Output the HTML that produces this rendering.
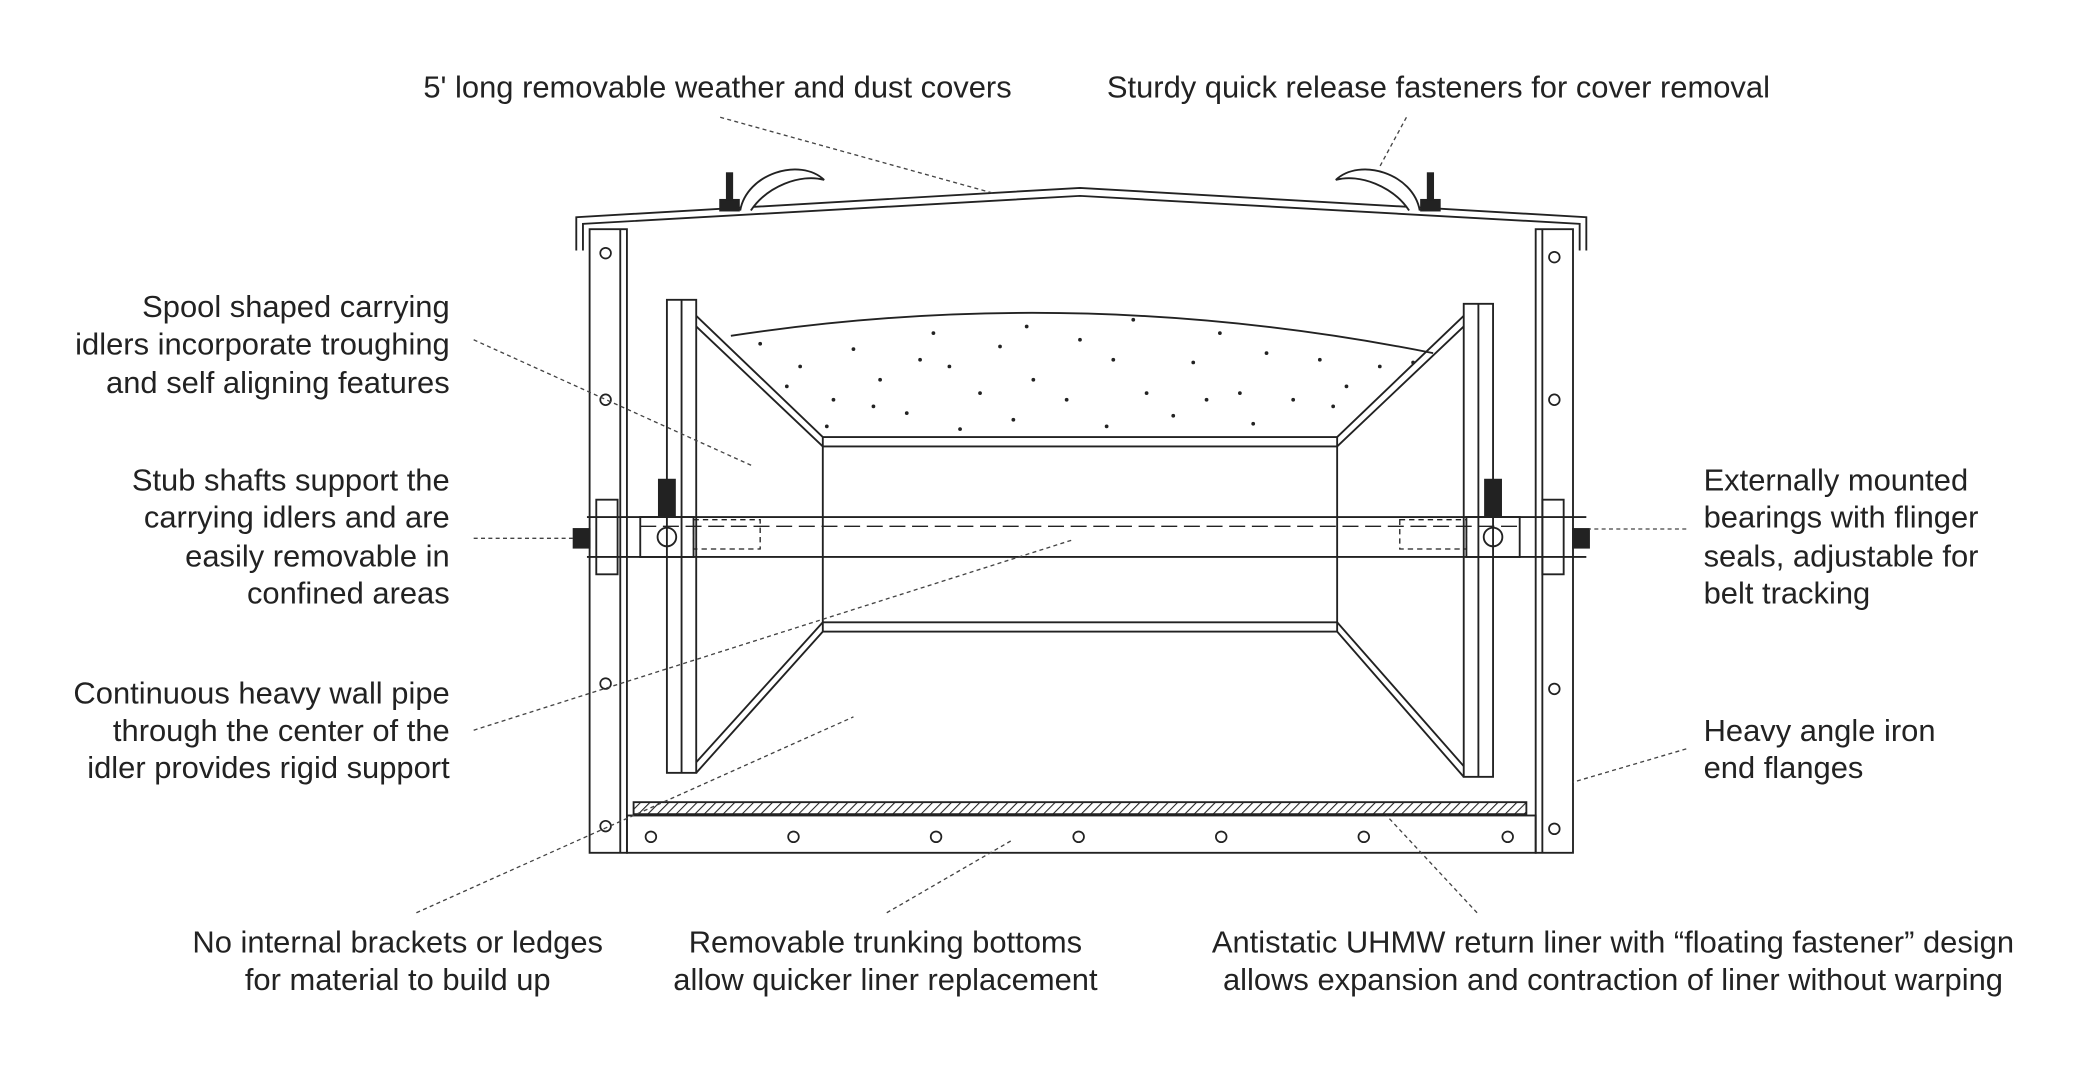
<!DOCTYPE html>
<html><head><meta charset="utf-8"><style>
html,body{margin:0;padding:0;background:#fff;}
svg{display:block;}
text{font-family:"Liberation Sans",sans-serif;font-size:23.2px;fill:#222;}
</style></head><body>
<svg width="2080" height="1066" viewBox="0 0 1560 800" xmlns="http://www.w3.org/2000/svg">
<defs>
<pattern id="h" width="5" height="5" patternUnits="userSpaceOnUse" patternTransform="rotate(45)"><line x1="0" y1="0" x2="0" y2="5" stroke="#222" stroke-width="1.6"/></pattern>
</defs>
<g fill="none" stroke="#222" stroke-width="1.4">
<path d="M432,188 L432,163 L810,141 L1190,163 L1190,188"/>
<path d="M437,188 L437,168 L810,147 L1185,168 L1185,188"/>
<path d="M555,158 C560,130 600,118 618,135 C600,130 575,140 563,158" fill="#fff"/>
<rect x="540" y="150" width="14" height="8" fill="#222"/><rect x="545" y="130" width="4" height="20" fill="#222"/>
<path d="M1065,158 C1060,130 1020,118 1002,135 C1020,130 1045,140 1057,158" fill="#fff"/>
<rect x="1066" y="150" width="14" height="8" fill="#222"/><rect x="1071" y="130" width="4" height="20" fill="#222"/>
<rect x="442" y="172" width="28" height="468"/>
<line x1="465" y1="172" x2="465" y2="640"/>
<rect x="1152" y="172" width="28" height="468"/>
<line x1="1157" y1="172" x2="1157" y2="640"/>
<rect x="470" y="612" width="682" height="28"/>
<rect x="475" y="602" width="670" height="9" fill="url(#h)"/>
<g stroke-width="1.3">
<circle cx="488" cy="628" r="4"/><circle cx="595" cy="628" r="4"/><circle cx="702" cy="628" r="4"/><circle cx="809" cy="628" r="4"/><circle cx="916" cy="628" r="4"/><circle cx="1023" cy="628" r="4"/><circle cx="1131" cy="628" r="4"/>
<circle cx="454" cy="190" r="4"/><circle cx="454" cy="300" r="4"/><circle cx="454" cy="513" r="4"/><circle cx="454" cy="620" r="4"/>
<circle cx="1166" cy="193" r="4"/><circle cx="1166" cy="300" r="4"/><circle cx="1166" cy="517" r="4"/><circle cx="1166" cy="622" r="4"/>
</g>
<rect x="500" y="225" width="22" height="355"/>
<line x1="511" y1="225" x2="511" y2="580"/>
<rect x="1098" y="228" width="22" height="355"/>
<line x1="1109" y1="228" x2="1109" y2="583"/>
<path d="M522,237 L617,328 M522,245 L617,335 M522,580 L617,474 M522,572 L617,467"/>
<path d="M1098,237 L1003,328 M1098,245 L1003,335 M1098,583 L1003,474 M1098,575 L1003,467"/>
<rect x="617" y="328" width="386" height="146"/>
<line x1="617" y1="335" x2="1003" y2="335"/><line x1="617" y1="467" x2="1003" y2="467"/>
<path d="M548,252 Q810,212 1075,265"/>
<line x1="440" y1="388" x2="1190" y2="388"/><line x1="440" y1="418" x2="1190" y2="418"/>
<line x1="480" y1="395" x2="1140" y2="395" stroke-dasharray="12,5" stroke-width="1"/>
<rect x="447" y="375" width="16" height="56"/><rect x="1157" y="375" width="16" height="56"/>
<rect x="480" y="388" width="40" height="30"/><rect x="1100" y="388" width="40" height="30"/>
<circle cx="500" cy="403" r="7"/><circle cx="1120" cy="403" r="7"/>
<rect x="494" y="360" width="12" height="28" fill="#222"/><rect x="1114" y="360" width="12" height="28" fill="#222"/>
<rect x="430" y="397" width="12" height="14" fill="#222"/><rect x="1180" y="397" width="12" height="14" fill="#222"/>
<rect x="520" y="390" width="50" height="22" stroke-dasharray="4,3" stroke-width="1"/>
<rect x="1050" y="390" width="50" height="22" stroke-dasharray="4,3" stroke-width="1"/>
</g>
<g fill="#222">
<circle cx="570" cy="258" r="1.4"/><circle cx="600" cy="275" r="1.4"/><circle cx="625" cy="300" r="1.4"/><circle cx="640" cy="262" r="1.4"/><circle cx="660" cy="285" r="1.4"/><circle cx="680" cy="310" r="1.4"/><circle cx="700" cy="250" r="1.4"/><circle cx="712" cy="275" r="1.4"/><circle cx="735" cy="295" r="1.4"/><circle cx="750" cy="260" r="1.4"/><circle cx="770" cy="245" r="1.4"/><circle cx="775" cy="285" r="1.4"/><circle cx="800" cy="300" r="1.4"/><circle cx="810" cy="255" r="1.4"/><circle cx="835" cy="270" r="1.4"/><circle cx="850" cy="240" r="1.4"/><circle cx="860" cy="295" r="1.4"/><circle cx="880" cy="312" r="1.4"/><circle cx="895" cy="272" r="1.4"/><circle cx="915" cy="250" r="1.4"/><circle cx="930" cy="295" r="1.4"/><circle cx="950" cy="265" r="1.4"/><circle cx="970" cy="300" r="1.4"/><circle cx="990" cy="270" r="1.4"/><circle cx="1010" cy="290" r="1.4"/><circle cx="1035" cy="275" r="1.4"/><circle cx="1060" cy="272" r="1.4"/><circle cx="620" cy="320" r="1.4"/><circle cx="720" cy="322" r="1.4"/><circle cx="830" cy="320" r="1.4"/><circle cx="940" cy="318" r="1.4"/><circle cx="690" cy="270" r="1.4"/><circle cx="760" cy="315" r="1.4"/><circle cx="905" cy="300" r="1.4"/><circle cx="655" cy="305" r="1.4"/><circle cx="590" cy="290" r="1.4"/><circle cx="1000" cy="305" r="1.4"/>
</g>
<g stroke="#444" stroke-width="1" stroke-dasharray="3,2.5" fill="none">
<line x1="540" y1="88" x2="745" y2="145"/>
<line x1="1055" y1="88" x2="1035" y2="125"/>
<line x1="355" y1="255" x2="565" y2="350"/>
<line x1="355" y1="404" x2="432" y2="404"/>
<line x1="355" y1="548" x2="805" y2="405"/>
<line x1="1265" y1="397" x2="1192" y2="397"/>
<line x1="1265" y1="562" x2="1180" y2="587"/>
<line x1="312" y1="685" x2="640" y2="538"/>
<line x1="665" y1="685" x2="760" y2="630"/>
<line x1="1108" y1="685" x2="1040" y2="612"/>
</g>
<text x="538" y="73" text-anchor="middle">5' long removable weather and dust covers</text>
<text x="1079" y="73" text-anchor="middle">Sturdy quick release fasteners for cover removal</text>
<g text-anchor="end">
<text x="337" y="238">Spool shaped carrying</text>
<text x="337" y="266">idlers incorporate troughing</text>
<text x="337" y="295">and self aligning features</text>
<text x="337" y="368">Stub shafts support the</text>
<text x="337" y="396">carrying idlers and are</text>
<text x="337" y="425">easily removable in</text>
<text x="337" y="453">confined areas</text>
<text x="337" y="528">Continuous heavy wall pipe</text>
<text x="337" y="556">through the center of the</text>
<text x="337" y="584">idler provides rigid support</text>
</g>
<text x="1278" y="368">Externally mounted</text>
<text x="1278" y="396">bearings with flinger</text>
<text x="1278" y="425">seals, adjustable for</text>
<text x="1278" y="453">belt tracking</text>
<text x="1278" y="556">Heavy angle iron</text>
<text x="1278" y="584">end flanges</text>
<g text-anchor="middle">
<text x="298" y="715">No internal brackets or ledges</text>
<text x="298" y="743">for material to build up</text>
<text x="664" y="715">Removable trunking bottoms</text>
<text x="664" y="743">allow quicker liner replacement</text>
<text x="1210" y="715">Antistatic UHMW return liner with “floating fastener” design</text>
<text x="1210" y="743">allows expansion and contraction of liner without warping</text>
</g>
</svg>
</body></html>
